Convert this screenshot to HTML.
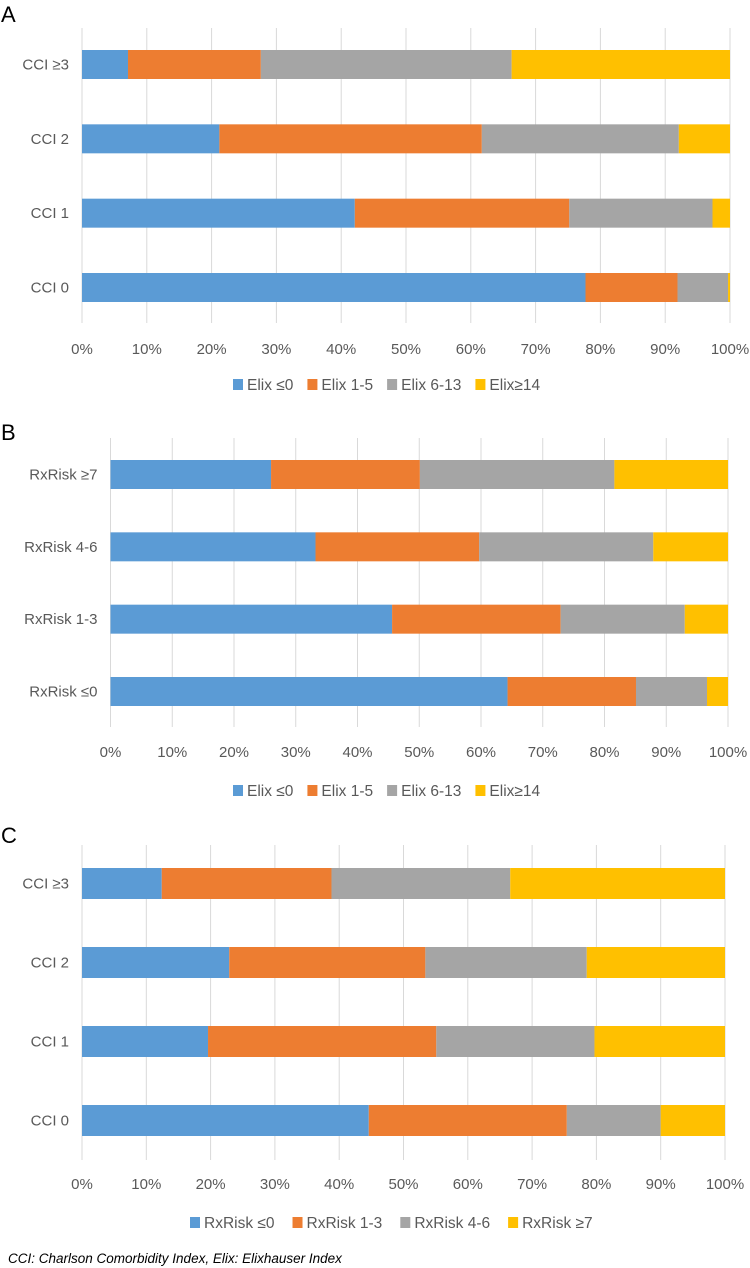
<!DOCTYPE html>
<html><head><meta charset="utf-8"><style>
body{margin:0;background:#fff;width:750px;height:1268px;overflow:hidden}
svg{display:block;font-family:"Liberation Sans",sans-serif}
</style></head><body>
<svg id="chart" width="750" height="1268" viewBox="0 0 750 1268">
<text x="1" y="22" font-size="22" fill="#000">A</text>
<text x="1" y="440" font-size="22" fill="#000">B</text>
<text x="1" y="843" font-size="22" fill="#000">C</text>
<text x="8" y="1263" font-size="13.5" font-style="italic" fill="#000">CCI: Charlson Comorbidity Index, Elix: Elixhauser Index</text>
</svg>
<script>
const colors = ['#5b9bd5','#ed7d31','#a5a5a5','#ffc000'];
const ticks = ['0%','10%','20%','30%','40%','50%','60%','70%','80%','90%','100%'];
const catsA = ['CCI ≥3','CCI 2','CCI 1','CCI 0'];
const seriesA = ['Elix ≤0','Elix 1-5','Elix 6-13','Elix≥14'];
const cumA = [[7.1,27.6,66.3,100],[21.2,61.7,92.1,100],[42.1,75.2,97.3,100],[77.7,91.9,99.7,100]];
const catsB = ['RxRisk ≥7','RxRisk 4-6','RxRisk 1-3','RxRisk ≤0'];
const seriesB = ['Elix ≤0','Elix 1-5','Elix 6-13','Elix≥14'];
const cumB = [[26.0,50.1,81.6,100],[33.2,59.7,87.9,100],[45.6,72.9,93.0,100],[64.3,85.1,96.6,100]];
const catsC = ['CCI ≥3','CCI 2','CCI 1','CCI 0'];
const seriesC = ['RxRisk ≤0','RxRisk 1-3','RxRisk 4-6','RxRisk ≥7'];
const cumC = [[12.4,38.8,66.6,100],[22.9,53.4,78.5,100],[19.6,55.1,79.7,100],[44.6,75.4,90.0,100]];

const NS='http://www.w3.org/2000/svg';
const svg=document.getElementById('chart');
function mk(tag,attrs,parent){const e=document.createElementNS(NS,tag);for(const k in attrs)e.setAttribute(k,attrs[k]);(parent||svg).appendChild(e);return e;}

function drawPanel(id,cfg,cats,series,cum){
  const g=mk('g',{});
  
  
  const x=v=>cfg.x0+(cfg.x1-cfg.x0)*v/100;
  ticks.forEach((t,i)=>{
    const v=i*10;
    const l=mk('line',{x1:x(v),x2:x(v),y1:cfg.gTop,y2:cfg.gBot,stroke:'#d9d9d9','stroke-width':1},g);
    
    
    const tx=mk('text',{x:x(v),y:cfg.tickY,'text-anchor':'middle','font-size':15,fill:'#595959'},g);
    tx.textContent=t;
    
    
  });
  const step=(cfg.lastBar-cfg.firstBar)/(cats.length-1);
  cats.forEach((c,ci)=>{
    const yc=cfg.firstBar+ci*step;
    const lb=mk('text',{x:cfg.x0-13,y:yc+5,'text-anchor':'end','font-size':15,fill:'#595959'},g);
    lb.textContent=c;
    
    
    let prev=0;
    cum[ci].forEach((v,si)=>{
      const r=mk('rect',{x:x(prev),y:yc-cfg.bh/2,width:Math.max(0,x(v)-x(prev)),height:cfg.bh,fill:colors[si]},g);
      
      
      prev=v;
    });
  });
  let lx=cfg.legX;
  series.forEach((s,si)=>{
    const sq=mk('rect',{x:lx,y:cfg.legY-11,width:10,height:11,fill:colors[si]},g);
    
    
    const t=mk('text',{x:lx+14,y:cfg.legY,'font-size':15.5,fill:'#595959'},g);
    t.textContent=s;
    
    
    lx+=14+t.getComputedTextLength()+cfg.legGap;
  });
}
drawPanel('panel-a',{x0:82,x1:730,gTop:28,gBot:323,tickY:354,firstBar:64.5,lastBar:287.5,bh:29,legX:233,legY:390,legGap:14},catsA,seriesA,cumA);
drawPanel('panel-b',{x0:110.5,x1:728,gTop:438,gBot:727,tickY:757,firstBar:474.5,lastBar:691.5,bh:29,legX:233,legY:796,legGap:14},catsB,seriesB,cumB);
drawPanel('panel-c',{x0:82,x1:725,gTop:845,gBot:1160,tickY:1189,firstBar:883.5,lastBar:1120.5,bh:31,legX:190,legY:1228,legGap:18},catsC,seriesC,cumC);
</script>
</body></html>
